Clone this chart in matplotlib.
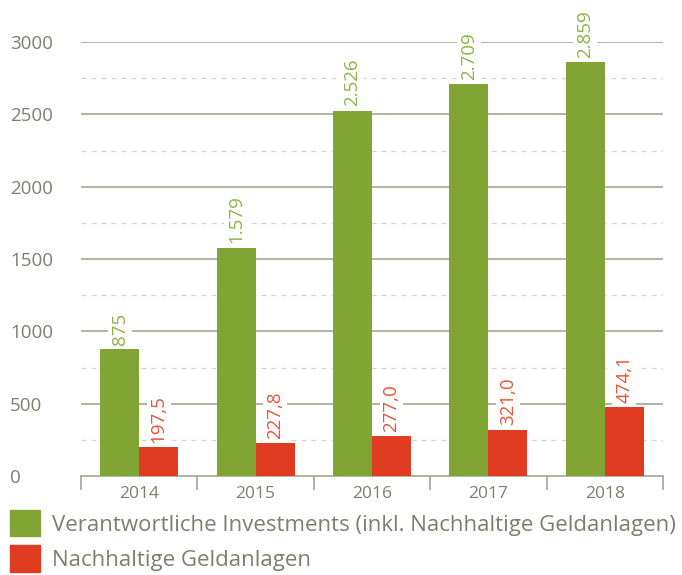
import matplotlib
matplotlib.use("Agg")
import matplotlib.pyplot as plt
import numpy as np
from matplotlib.patches import Patch

years = ["2014", "2015", "2016", "2017", "2018"]
verantwortlich = [875, 1579, 2526, 2709, 2859]
nachhaltig = [197.5, 227.8, 277.0, 321.0, 474.1]
verantwortlich_labels = ["875", "1.579", "2.526", "2.709", "2.859"]
nachhaltig_labels = ["197,5", "227,8", "277,0", "321,0", "474,1"]
series_names = ["Verantwortliche Investments (inkl. Nachhaltige Geldanlagen)",
                "Nachhaltige Geldanlagen"]

GREEN = "#80a534"
RED = "#e03c21"
GREEN_T = "#8db446"
RED_T = "#e8553a"
GREY_T = "#7d7f6e"
GRID = "#acac9c"

plt.rcParams['font.family'] = ['Open Sans', 'DejaVu Sans']

fig = plt.figure(figsize=(6.82, 5.75), dpi=100)
ax = fig.add_axes([81/682, 1-476/575, (663-81)/682, (476-42)/575])

x = np.arange(len(years))
w = 0.335
ax.bar(x - w/2, verantwortlich, w, color=GREEN, zorder=3)
ax.bar(x + w/2, nachhaltig, w, color=RED, zorder=3)

ax.set_xlim(-0.5, len(years) - 0.5)
ax.set_ylim(0, 3000)

for xi, v, s in zip(x, verantwortlich, verantwortlich_labels):
    ax.annotate(s, (xi - w/2, v), xytext=(0, 3), textcoords='offset points',
                rotation=90, ha='center', va='bottom', color=GREEN_T, fontsize=13.5,
                bbox=dict(boxstyle='square,pad=0.15', fc='white', ec='none'), zorder=4)
for xi, v, s in zip(x, nachhaltig, nachhaltig_labels):
    ax.annotate(s, (xi + w/2, v), xytext=(0, 3), textcoords='offset points',
                rotation=90, ha='center', va='bottom', color=RED_T, fontsize=13.5,
                bbox=dict(boxstyle='square,pad=0.15', fc='white', ec='none'), zorder=4)

# grid
ax.set_yticks(np.arange(0, 3001, 500))
for yv in np.arange(500, 3001, 500):
    ax.axhline(yv, color=GRID, lw=1.3, zorder=1)
for yv in np.arange(250, 3000, 500):
    ax.axhline(yv, color="#d6d6d6", lw=0.9, ls=(0, (4, 4)), zorder=1)

for sp in ['top', 'right', 'left']:
    ax.spines[sp].set_visible(False)
ax.spines['bottom'].set_color(GRID)
ax.spines['bottom'].set_linewidth(1.3)

ax.tick_params(axis='y', which='both', length=0, labelsize=13.5, labelcolor=GREY_T, pad=51)
for lab in ax.get_yticklabels():
    lab.set_horizontalalignment('left')

ax.set_xticks(x)
ax.set_xticklabels(years)
ax.tick_params(axis='x', which='major', length=0, labelsize=12.5, labelcolor=GREY_T, pad=7)
ax.set_xticks(np.arange(-0.5, len(years)), minor=True)
ax.tick_params(axis='x', which='minor', length=10, width=1.3, color=GRID, direction='out')

handles = [Patch(color=GREEN), Patch(color=RED)]
fig.legend(handles, series_names, loc='upper left', bbox_to_anchor=(10/682, 1 - 510/575),
           frameon=False, fontsize=16, labelcolor=GREY_T, handlelength=1.35,
           handleheight=1.45, handletextpad=0.55, labelspacing=0.4,
           borderaxespad=0, borderpad=0)

fig.savefig("out.png", dpi=100)
